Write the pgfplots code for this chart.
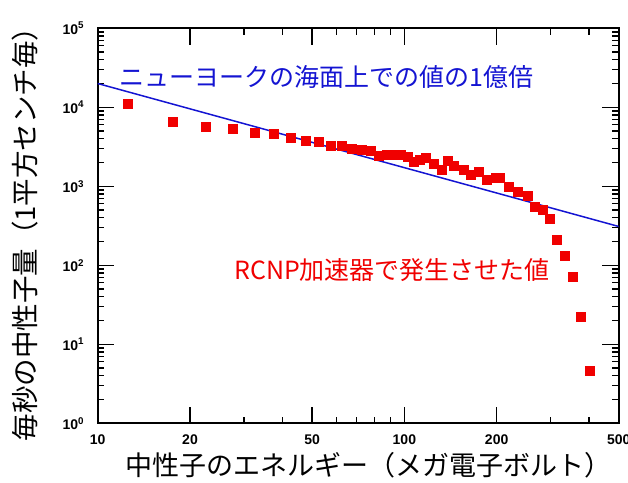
\documentclass[border=0pt]{standalone}
\usepackage{fontspec}
\setmainfont{Noto Sans CJK JP}
\newfontfamily\tickfont{Liberation Sans}
\usepackage{pgfplots}
\pgfplotsset{compat=1.18}
\definecolor{myblue}{RGB}{20,20,210}
\definecolor{myred}{RGB}{240,0,0}
\begin{document}
\begin{tikzpicture}
\path[use as bounding box] (0,0) rectangle (628bp,483bp);
\begin{axis}[
  at={(97.7bp,59.7bp)}, anchor=south west,
  scale only axis, width=521bp, height=395bp,
  xmode=log, ymode=log,
  xmin=10, xmax=500, ymin=1, ymax=1e5,
  xtick={10,20,50,100,200,500},
  xticklabels={10,20,50,100,200,500},
  minor xtick={30,40,60,70,80,90,300,400},
  ytick={1,10,100,1000,10000,100000},
  yticklabels={10\textsuperscript{0},10\textsuperscript{1},10\textsuperscript{2},10\textsuperscript{3},10\textsuperscript{4},10\textsuperscript{5}},
  minor ytick={2,3,4,5,6,7,8,9,20,30,40,50,60,70,80,90,200,300,400,500,600,700,800,900,2000,3000,4000,5000,6000,7000,8000,9000,20000,30000,40000,50000,60000,70000,80000,90000},
  axis line style={line width=1.6bp},
  every tick/.style={black, line width=1.2bp},
  major tick length=16.5bp, minor tick length=6.5bp,
  xticklabel style={font=\tickfont\bfseries\fontsize{14bp}{16bp}\selectfont, yshift=-8bp},
  yticklabel style={font=\tickfont\bfseries\fontsize{14bp}{16bp}\selectfont, xshift=-10bp},
]
\addplot[myblue, line width=1.5bp] coordinates {(10,20000) (500,310)};
\addplot[only marks, mark=square*, mark size=4.5bp, color=myred, mark options={draw=myred, fill=myred}] coordinates {
(12.5,11000) (17.5,6570) (22.5,5680) (27.5,5310) (32.5,4770) (37.5,4590)
(42.5,4120) (47.5,3820) (52.5,3640) (57.5,3310) (62.5,3240) (67.5,3030)
(72.5,2940) (77.5,2820) (82.5,2440) (87.5,2540) (92.5,2490) (97.5,2490)
(102.5,2370) (107.5,2050) (112.5,2200) (117.5,2300) (125,1930) (132,1600)
(138,2080) (145,1800) (156,1600) (165,1410) (174.5,1510) (186,1210)
(198,1300) (205,1300) (219,990) (234,850) (252,770) (267,555)
(282,500) (297,394) (314,209) (334,131) (354,72) (376,22.4) (403,4.6)
};
\end{axis}
\node[anchor=west, inner sep=0, text=myblue, font=\fontsize{25bp}{30bp}\selectfont] at (119bp,406bp) {ニューヨークの海面上での値の1億倍};
\node[anchor=west, inner sep=0, text=myred, font=\fontsize{25bp}{30bp}\selectfont] at (234bp,212.5bp) {RCNP加速器で発生させた値};
\node[inner sep=0, font=\fontsize{27bp}{32bp}\selectfont] at (368bp,18bp) {中性子のエネルギー（メガ電子ボルト）};
\node[inner sep=0, rotate=90, font=\fontsize{27.5bp}{32bp}\selectfont] at (25bp,255.5bp) {毎秒の中性子量（1平方センチ毎）};
\end{tikzpicture}
\end{document}
